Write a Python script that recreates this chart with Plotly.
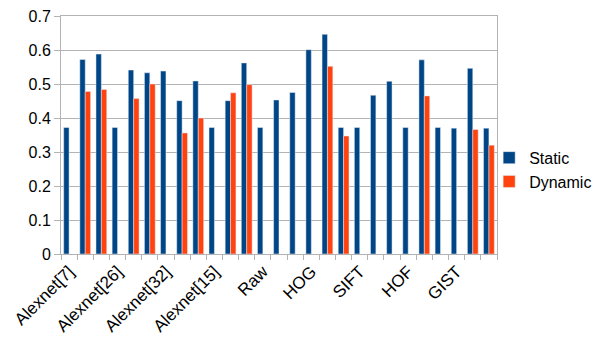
import plotly.graph_objects as go

# 27 feature/config slots; only every third label shown on the axis
labels = ["Alexnet[7]", "Alexnet[26]", "Alexnet[32]", "Alexnet[15]", "Raw",
          "HOG", "SIFT", "HOF", "GIST"]
label_every = 3

static = [0.372, 0.572, 0.588, 0.372, 0.541, 0.533, 0.538, 0.451, 0.509,
          0.372, 0.451, 0.562, 0.372, 0.453, 0.475, 0.601, 0.646, 0.372,
          0.372, 0.467, 0.508, 0.372, 0.571, 0.372, 0.370, 0.546, 0.370]
dynamic = [None, 0.478, 0.484, None, 0.457, 0.500, None, 0.356, 0.400,
           None, 0.474, 0.498, None, None, None, None, 0.552, 0.347,
           None, None, None, None, 0.465, None, None, 0.366, 0.320]

y_ticks = [0, 0.1, 0.2, 0.3, 0.4, 0.5, 0.6, 0.7]

n = len(static)
x = list(range(n))
GRID = "#b3b3b3"

fig = go.Figure()
fig.add_trace(go.Bar(x=x, y=static, name="Static", marker_color="#004586"))
fig.add_trace(go.Bar(x=x, y=dynamic, name="Dynamic", marker_color="#ff420e"))

# page body has an 8px default margin, so the figure is 8px smaller
fig.update_layout(
    width=597, height=332,
    margin=dict(l=53, r=108, t=8, b=86),
    paper_bgcolor="white", plot_bgcolor="white",
    barmode="group", bargap=0.333, bargroupgap=0,
    font=dict(family="Liberation Sans, Arial, sans-serif", size=16, color="#000"),
    legend=dict(x=0.982, xanchor="left", y=0.354, yanchor="middle",
                font=dict(size=16), itemwidth=30, bgcolor="rgba(0,0,0,0)"),
)
fig.update_xaxes(
    range=[-0.5, n - 0.5], automargin=False,
    tickmode="array", tickvals=x[::label_every], ticktext=labels,
    tickangle=-45, ticks="", showgrid=False, tickfont=dict(size=17),
    showline=True, linecolor=GRID, mirror=True, zeroline=False,
    minor=dict(tickmode="array", tickvals=[i - 0.5 for i in range(n + 1)],
               ticks="outside", ticklen=5, tickcolor=GRID, showgrid=False),
)
fig.update_yaxes(
    range=[0, 0.7], tickmode="array", tickvals=y_ticks,
    ticktext=[f"{v:g}" for v in y_ticks], ticklabeloverflow="allow",
    showgrid=True, gridcolor=GRID, automargin=False,
    ticks="outside", ticklen=6, tickcolor=GRID, tickfont=dict(size=16),
    showline=True, linecolor=GRID, mirror=True, zeroline=False,
)

fig.write_html("out.html")
